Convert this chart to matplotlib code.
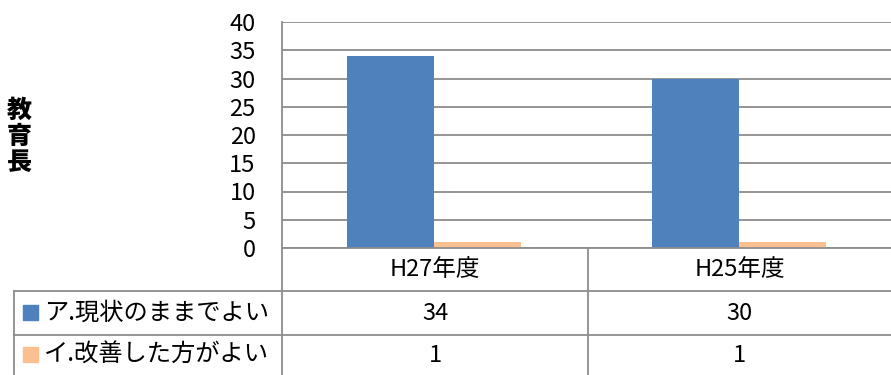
import matplotlib.pyplot as plt
from matplotlib.lines import Line2D
from matplotlib.patches import Rectangle
import numpy as np

plt.rcParams['font.family'] = ['Noto Sans CJK JP', 'DejaVu Sans']

# data
categories = ['H27年度', 'H25年度']
series_names = ['ア.現状のままでよい', 'イ.改善した方がよい']
series_values = [[34, 30], [1, 1]]
series_colors = ['#4F81BD', '#FAC090']
y_label = '教育長'

W, H = 891, 375
fig = plt.figure(figsize=(W / 100, H / 100), dpi=100)

# plot area in pixel units
left, right, top, bottom = 282, 891, 22, 248
ax = fig.add_axes([left / W, 1 - bottom / H, (right - left) / W, (bottom - top) / H])

x = np.arange(len(categories))
bar_w = 0.286
offsets = [-bar_w / 2, bar_w / 2]
for vals, col, off in zip(series_values, series_colors, offsets):
    ax.bar(x + off, vals, width=bar_w, color=col, zorder=3)

ax.set_xlim(-0.5, len(categories) - 0.5)
ax.set_ylim(0, 40)
ax.set_yticks(range(0, 41, 5))
ax.yaxis.grid(True, color='#8C8C8C', linewidth=1.3, zorder=0)
ax.set_xticks([])
ax.tick_params(axis='y', length=0, labelsize=17, pad=19, colors='black')
for s in ['top', 'right', 'bottom']:
    ax.spines[s].set_visible(False)
ax.spines['left'].set_color('#8C8C8C')
ax.spines['left'].set_linewidth(1.3)

# vertical axis title, one character per line
fig.text(19 / W, 1 - 136 / H, '\n'.join(y_label), fontsize=18, fontweight='heavy',
         ha='center', va='center', linespacing=1.0)

# data table below the axes
def fx(px):
    return px / W

def fy(py):
    return 1 - py / H

grid_kw = dict(color='#8C8C8C', linewidth=1.3, transform=fig.transFigure)
col_x = [282, 588, 891]
fig.add_artist(Line2D([fx(282), fx(891)], [fy(248), fy(248)], **grid_kw))
for py in [291, 335]:
    fig.add_artist(Line2D([fx(14), fx(891)], [fy(py), fy(py)], **grid_kw))
fig.add_artist(Line2D([fx(14), fx(14)], [fy(291), fy(375)], **grid_kw))
fig.add_artist(Line2D([fx(282), fx(282)], [fy(248), fy(375)], **grid_kw))
fig.add_artist(Line2D([fx(588), fx(588)], [fy(248), fy(375)], **grid_kw))

col_centers = [(col_x[i] + col_x[i + 1]) / 2 for i in range(len(categories))]
for cx, cat in zip(col_centers, categories):
    fig.text(fx(cx), fy(270), cat, fontsize=17, ha='center', va='center')

row_centers = [313, 355]
for ry, name, vals, col in zip(row_centers, series_names, series_values, series_colors):
    fig.add_artist(Rectangle((fx(23), fy(ry + 7)), 15 / W, 15 / H, color=col,
                             transform=fig.transFigure))
    fig.text(fx(44), fy(ry), name, fontsize=17.5, ha='left', va='center')
    for cx, v in zip(col_centers, vals):
        fig.text(fx(cx), fy(ry), str(v), fontsize=17, ha='center', va='center')

fig.savefig('out.png', dpi=100, facecolor='white')
